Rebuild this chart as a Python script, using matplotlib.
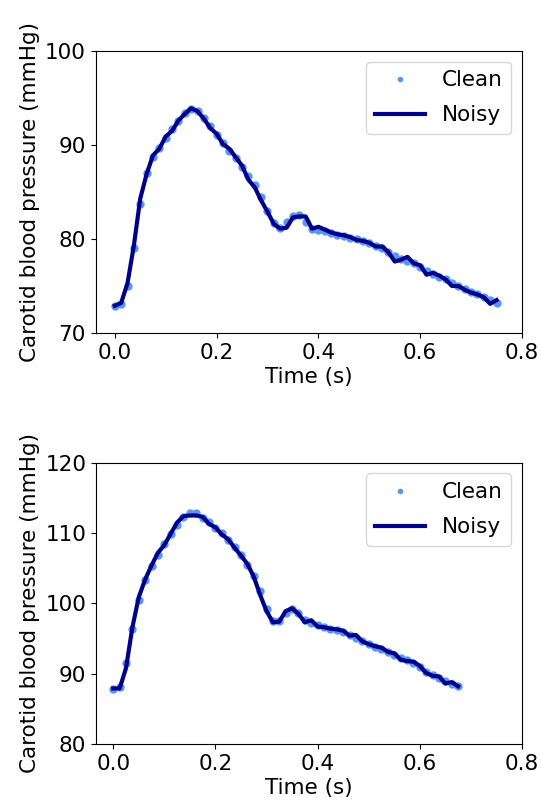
import matplotlib
matplotlib.use("Agg")
import matplotlib.pyplot as plt
import numpy as np

# sampling: 80 Hz
dt = 0.0125

# top beat (0 - 0.75 s)
clean_top = [72.9, 73.1, 75.0, 79.0, 83.7, 87.0, 88.7, 89.7, 90.7, 91.7,
             92.5, 93.4, 93.8, 93.6, 92.9, 92.0, 91.1, 90.2, 89.4, 88.6,
             87.7, 86.7, 85.7, 84.5, 83.0, 81.7, 81.2, 81.8, 82.4, 82.5,
             81.8, 81.1, 81.0, 80.8, 80.6, 80.4, 80.3, 80.1, 80.0, 79.8,
             79.6, 79.3, 79.0, 78.6, 78.2, 77.9, 77.7, 77.4, 77.0, 76.6,
             76.3, 76.0, 75.7, 75.3, 75.0, 74.7, 74.4, 74.1, 73.8, 73.5,
             73.2]
noisy_top = [72.9, 73.2, 75.3, 79.3, 84.3, 86.9, 88.9, 89.6, 90.9, 91.5,
             92.6, 93.3, 93.9, 93.6, 92.8, 91.8, 91.2, 90.1, 89.6, 88.7,
             87.8, 86.3, 85.5, 84.1, 82.9, 81.6, 81.1, 81.2, 82.3, 82.4,
             82.4, 81.1, 81.3, 81.0, 80.7, 80.5, 80.4, 80.2, 79.9, 79.8,
             79.6, 79.2, 79.2, 78.6, 77.6, 77.8, 78.1, 77.4, 77.2, 76.2,
             76.4, 76.1, 75.7, 75.0, 75.0, 74.6, 74.3, 74.1, 73.8, 73.1,
             73.5]

# bottom beat (0 - 0.675 s)
clean_bot = [87.8, 88.1, 91.5, 96.3, 100.5, 103.3, 105.3, 106.9, 108.4, 109.8,
             111.2, 112.3, 112.8, 112.8, 112.2, 111.5, 110.7, 110.0, 109.0, 108.0,
             106.9, 105.5, 103.9, 101.7, 99.2, 97.5, 97.5, 98.6, 99.2, 98.6,
             97.7, 97.2, 96.9, 96.6, 96.4, 96.2, 95.9, 95.5, 95.1, 94.7,
             94.2, 93.8, 93.5, 93.1, 92.7, 92.2, 91.9, 91.5, 91.0, 90.3,
             89.8, 89.4, 89.0, 88.6, 88.2]
noisy_bot = [87.9, 87.9, 90.8, 96.6, 100.9, 103.4, 105.4, 107.2, 108.3, 109.9,
             111.5, 112.4, 112.5, 112.5, 112.3, 111.3, 110.8, 109.8, 109.1, 107.9,
             106.8, 105.6, 103.8, 101.2, 98.9, 97.3, 97.4, 98.9, 99.3, 98.5,
             97.3, 97.6, 96.7, 96.6, 96.4, 96.3, 96.1, 95.4, 95.5, 94.6,
             94.2, 93.9, 93.7, 93.1, 92.9, 92.0, 91.8, 91.7, 91.1, 90.1,
             89.7, 89.6, 88.6, 88.8, 88.2]

ylims = [(70, 100), (80, 120)]
yticks = [[70, 80, 90, 100], [80, 90, 100, 110, 120]]
xticks = [0.0, 0.2, 0.4, 0.6, 0.8]

plt.rcParams['font.size'] = 15.5

fig = plt.figure(figsize=(5.41, 8.02), dpi=100)
W, H = 541, 802
boxes = [(95.7, 51, 522, 333), (96, 462.7, 522, 744)]

pairs = [(clean_top, noisy_top), (clean_bot, noisy_bot)]
for (clean, noisy), (l, t, r, b), yl, yt in zip(pairs, boxes, ylims, yticks):
    ax = fig.add_axes([l / W, 1 - b / H, (r - l) / W, (b - t) / H])
    tt = np.arange(len(clean)) * dt
    ax.plot(tt, clean, '.', color='#5b96ee', markersize=10, label='Clean')
    ax.plot(tt, noisy, '-', color='#00008b', lw=3, label='Noisy')
    ax.set_xlim(right=0.8)
    ax.set_ylim(*yl)
    ax.set_yticks(yt)
    ax.set_xticks(xticks)
    ax.set_xlabel('Time (s)', labelpad=3)
    ax.set_ylabel('Carotid blood pressure (mmHg)')
    ax.legend(loc='upper right', borderaxespad=0.5, handlelength=2.3,
              labelspacing=0.7, markerscale=0.6)

fig.savefig('out.png', dpi=100)
